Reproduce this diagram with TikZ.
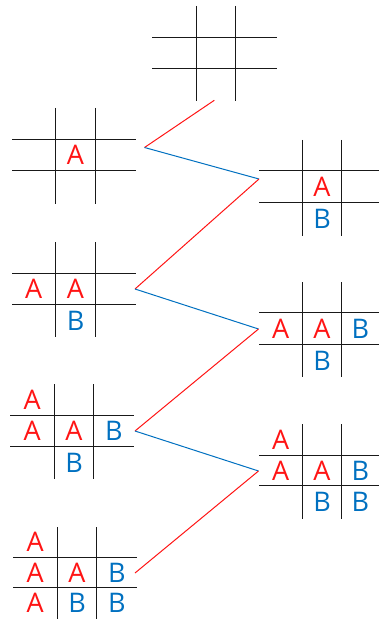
\documentclass[tikz,border=0pt]{standalone}
\usepackage{fontspec}
\setmainfont{Open Sans}
\definecolor{cred}{RGB}{255,20,20}
\definecolor{cblue}{RGB}{0,112,192}
\tikzset{
  gline/.style={line width=1.2pt, black!90},
  la/.style={text=cred, font=\fontsize{27}{30}\selectfont, inner sep=0pt},
  lb/.style={text=cblue, font=\fontsize{27}{30}\selectfont, inner sep=0pt},
  redc/.style={cred, line width=1pt},
  bluec/.style={cblue, line width=1pt}
}
% name, xl, xa, xb, xr, yt, ya, yb, ybot
\newcommand\tgrid[9]{%
  \draw[gline] (#2,#7) -- (#5,#7);
  \draw[gline] (#2,#8) -- (#5,#8);
  \draw[gline] (#3,#6) -- (#3,#9);
  \draw[gline] (#4,#6) -- (#4,#9);
  \coordinate (#1-11) at ({(#2+#3)/2},{(#6+#7)/2});
  \coordinate (#1-12) at ({(#3+#4)/2},{(#6+#7)/2});
  \coordinate (#1-13) at ({(#4+#5)/2},{(#6+#7)/2});
  \coordinate (#1-21) at ({(#2+#3)/2},{(#7+#8)/2});
  \coordinate (#1-22) at ({(#3+#4)/2},{(#7+#8)/2});
  \coordinate (#1-23) at ({(#4+#5)/2},{(#7+#8)/2});
  \coordinate (#1-31) at ({(#2+#3)/2},{(#8+#9)/2});
  \coordinate (#1-32) at ({(#3+#4)/2},{(#8+#9)/2});
  \coordinate (#1-33) at ({(#4+#5)/2},{(#8+#9)/2});
}
\begin{document}
\begin{tikzpicture}[x=1pt,y=-1pt]
\useasboundingbox (0,0) rectangle (379,620);
\tgrid{g1}{152}{196.5}{235.5}{277}{6}{37.5}{68.5}{101}
\tgrid{g2}{12}{55.5}{95.5}{136}{108}{139.5}{170.5}{204}
\tgrid{g3}{259}{302.5}{341.5}{379}{140}{170.5}{202.5}{236}
\tgrid{g4}{12}{55.5}{95.5}{136}{242}{273.5}{304.5}{337}
\tgrid{g5}{259}{302.5}{341.5}{379}{282}{312.5}{344.5}{377}
\tgrid{g6}{10}{54.5}{93.5}{134}{384}{415.5}{446.5}{479}
\tgrid{g7}{259}{302.5}{341.5}{379}{424}{455.5}{485.5}{519}
\tgrid{g8}{13}{57.5}{96.5}{137}{527}{557.5}{587.5}{619}
% letters
\node[la] (g2a) at (g2-22) {A};
\node[la] (g3a) at (g3-22) {A};
\node[lb] (g3b) at (g3-32) {B};
\node[la] (g4a1) at (g4-21) {A};
\node[la] (g4a2) at (g4-22) {A};
\node[lb] (g4b) at (g4-32) {B};
\node[la] (g5a1) at (g5-21) {A};
\node[la] (g5a2) at (g5-22) {A};
\node[lb] (g5b1) at (g5-23) {B};
\node[lb] (g5b2) at (g5-32) {B};
\node[la] (g6a0) at (g6-11) {A};
\node[la] (g6a1) at (g6-21) {A};
\node[la] (g6a2) at (g6-22) {A};
\node[lb] (g6b1) at (g6-23) {B};
\node[lb] (g6b2) at (g6-32) {B};
\node[la] (g7a0) at (g7-11) {A};
\node[la] (g7a1) at (g7-21) {A};
\node[la] (g7a2) at (g7-22) {A};
\node[lb] (g7b1) at (g7-23) {B};
\node[lb] (g7b2) at (g7-32) {B};
\node[lb] (g7b3) at (g7-33) {B};
\node[la] (g8a0) at (g8-11) {A};
\node[la] (g8a1) at (g8-21) {A};
\node[la] (g8a2) at (g8-22) {A};
\node[lb] (g8b1) at (g8-23) {B};
\node[la] (g8a3) at (g8-31) {A};
\node[lb] (g8b2) at (g8-32) {B};
\node[lb] (g8b3) at (g8-33) {B};
% connector points
\coordinate (c1) at (214.3,100.3);
\coordinate (c2) at (144.5,147.5);
\coordinate (c3) at (259,179);
\coordinate (c4) at (135,289);
\coordinate (c5) at (258.5,329);
\coordinate (c6) at (135,431);
\coordinate (c7) at (258.5,471);
\coordinate (c8) at (135,573);
\draw[redc] (c1) -- (c2);
\draw[bluec] (c2) -- (c3);
\draw[redc] (c3) -- (c4);
\draw[bluec] (c4) -- (c5);
\draw[redc] (c5) -- (c6);
\draw[bluec] (c6) -- (c7);
\draw[redc] (c7) -- (c8);
\end{tikzpicture}
\end{document}
